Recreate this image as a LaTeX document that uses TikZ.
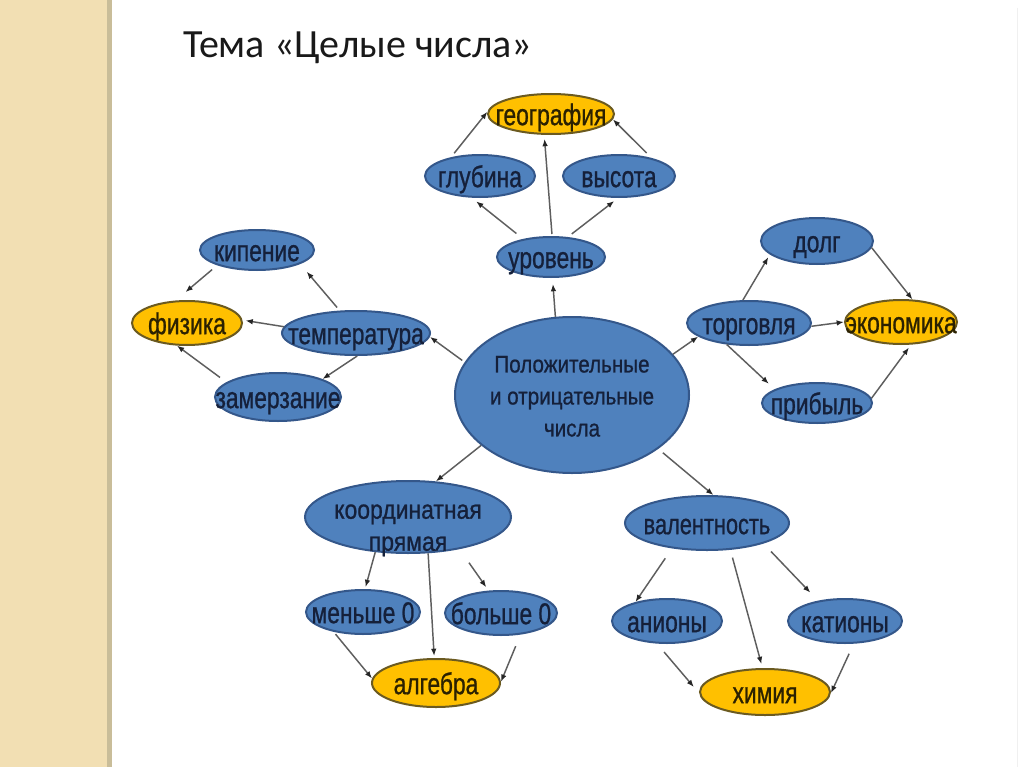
\documentclass[tikz,border=0pt]{standalone}
\usepackage{fontspec}
\usetikzlibrary{shapes.geometric,arrows.meta}
\newfontfamily\nfont[FakeStretch=0.76,FakeBold=0.8]{Liberation Sans}
\newfontfamily\cfont[FakeStretch=0.86,FakeBold=0.8]{Liberation Sans}
\newfontfamily\tfont{Carlito}
\definecolor{stripe}{HTML}{F2DFB3}
\definecolor{stripeedge}{HTML}{C9BD99}
\definecolor{bfill}{HTML}{4F81BD}
\definecolor{bdraw}{HTML}{34578A}
\definecolor{yfill}{HTML}{FFC000}
\definecolor{ydraw}{HTML}{6B5A20}
\definecolor{btext}{HTML}{15203A}
\definecolor{ytext}{HTML}{2B2100}
\definecolor{arrline}{HTML}{5E5E5E}
\tikzset{
  sz/.style 2 args={minimum width=#1*0.75pt,minimum height=#2*0.75pt},
  bl/.style={ellipse,draw=bdraw,fill=bfill,line width=1.5pt,inner sep=0pt},
  yl/.style={ellipse,draw=ydraw,fill=yfill,line width=1.5pt,inner sep=0pt},
  bt/.style={text=btext,font=\nfont\fontsize{22.5}{26}\selectfont,inner sep=0pt,text height=11.7pt,text depth=0pt,yshift=-2.5pt},
  yt/.style={bt,text=ytext},
  mt/.style={text=btext,inner sep=0pt,align=center},
  arr/.style={draw=arrline,line width=1.1pt,-{Latex[length=5.5pt,width=4.2pt,color=black!85]}}
}
\begin{document}
\begin{tikzpicture}[x=0.75pt,y=-0.75pt]
\useasboundingbox (0,0) rectangle (1024,767);
\fill[white] (0,0) rectangle (1024,767);
\fill[stripe] (0,0) rectangle (107,767);
\fill[stripeedge] (107,0) rectangle (112,767);
\draw[gray!12,line width=0.75pt] (1017,8) -- (1017,767);

\node[anchor=base west,inner sep=0pt,font=\tfont\fontsize{30}{36}\selectfont,text=black!90] (title) at (183,58) {Тема «Целые числа»};

% center
\node[bl,sz={234}{156},label={[mt,font=\cfont\fontsize{18}{24}\selectfont,yshift=-1pt]center:Положительные\\и отрицательные\\числа}] (C) at (572,395) {};

% top cluster
\node[yl,sz={126}{40},label={[yt]center:география}] (geo) at (551,114) {};
\node[bl,sz={110}{42},label={[bt]center:глубина}] (glub) at (480,176) {};
\node[bl,sz={112}{42},label={[bt]center:высота}] (vys) at (619,176) {};
\node[bl,sz={108}{40},label={[bt]center:уровень}] (urov) at (551,257) {};

% left cluster
\node[bl,sz={114}{40},label={[bt]center:кипение}] (kip) at (257,250) {};
\node[yl,sz={110}{44},label={[yt]center:физика}] (fiz) at (187,323) {};
\node[bl,sz={148}{44},label={[bt]center:температура}] (temp) at (356,333) {};
\node[bl,sz={126}{48},label={[bt]center:замерзание}] (zam) at (278,397) {};

% right cluster
\node[bl,sz={112}{46},label={[bt]center:долг}] (dolg) at (817,241) {};
\node[bl,sz={124}{44},label={[bt]center:торговля}] (torg) at (749,323) {};
\node[yl,sz={112}{44},label={[yt]center:экономика}] (econ) at (901,322) {};
\node[bl,sz={110}{40},label={[bt]center:прибыль}] (prib) at (817,403) {};

% bottom-left cluster
\node[bl,sz={206}{72},label={[mt,font=\cfont\fontsize{20}{24}\selectfont,yshift=-10pt]center:координатная\\прямая}] (koord) at (408,517) {};
\node[bl,sz={114}{44},label={[bt]center:меньше 0}] (men) at (363,612) {};
\node[bl,sz={112}{44},label={[bt]center:больше 0}] (bol) at (501,613) {};
\node[yl,sz={128}{48},label={[yt]center:алгебра}] (alg) at (436,683) {};

% bottom-right cluster
\node[bl,sz={164}{54},label={[bt,font=\nfont\fontsize{21.5}{25}\selectfont]center:валентность}] (val) at (707,523) {};
\node[bl,sz={110}{44},label={[bt]center:анионы}] (anion) at (667,621) {};
\node[bl,sz={114}{44},label={[bt]center:катионы}] (kation) at (845,621) {};
\node[yl,sz={130}{46},label={[yt]center:химия}] (xim) at (765,692) {};

% connectors
\draw[arr,shorten <=3.75pt] (glub.147) -- (geo.178);
\draw[arr,shorten <=1.5pt,shorten >=3pt] (urov.87) -- (geo.-108);
\draw[arr,shorten <=5.25pt] (vys.29) -- (geo.-5);
\draw[arr,shorten <=6.5pt,shorten >=4.3pt] (urov.147) -- (glub.-111);
\draw[arr,shorten <=3.75pt,shorten >=3.75pt] (urov.50) -- (vys.-92);
\draw[arr,shorten >=4.5pt] (C.102) -- (urov.-86);

\draw[arr,shorten <=5pt,shorten >=9.75pt] (kip.201) -- (fiz.117);
\draw[arr,shorten <=3pt,shorten >=7.5pt] (temp.126) -- (kip.-18);
\draw[arr,shorten >=2.25pt] (temp.175) -- (fiz.3);
\draw[arr] (temp.-87) -- (zam.22);
\draw[arr,shorten <=6pt] (zam.164) -- (fiz.-114);
\draw[arr,shorten <=2.25pt] (C.163) -- (temp.-3);

\draw[arr] (C.22) -- (torg.195);
\draw[arr,shorten >=2.25pt] (torg.105) -- (dolg.196);
\draw[arr] (dolg.-7) -- (econ.63);
\draw[arr] (torg.-3) -- (econ.180);
\draw[arr,shorten >=6pt] (torg.-136) -- (prib.162);
\draw[arr,shorten >=2.7pt] (prib.5) -- (econ.-66);

\draw[arr] (C.-151) -- (koord.52);
\draw[arr,shorten >=1.5pt] (koord.-133) -- (men.85);
\draw[arr,shorten >=1.5pt] (koord.-61) -- (alg.94);
\draw[arr,shorten <=12.4pt,shorten >=3pt] (koord.-32) -- (bol.119);
\draw[arr,shorten <=2.25pt] (men.-146) -- (alg.176);
\draw[arr,shorten <=9.4pt] (bol.-48) -- (alg.1);

\draw[arr,shorten <=4.5pt] (C.-32) -- (val.77);
\draw[arr,shorten <=9pt] (val.-144) -- (anion.149);
\draw[arr,shorten <=6pt,shorten >=3pt] (val.-49) -- (xim.96);
\draw[arr,shorten <=8.25pt,shorten >=8.25pt] (val.-20) -- (kation.143);
\draw[arr,shorten <=8.25pt,shorten >=6pt] (anion.-114) -- (xim.181);
\draw[arr,shorten <=8.25pt] (kation.-69) -- (xim.-1);
\end{tikzpicture}
\end{document}
